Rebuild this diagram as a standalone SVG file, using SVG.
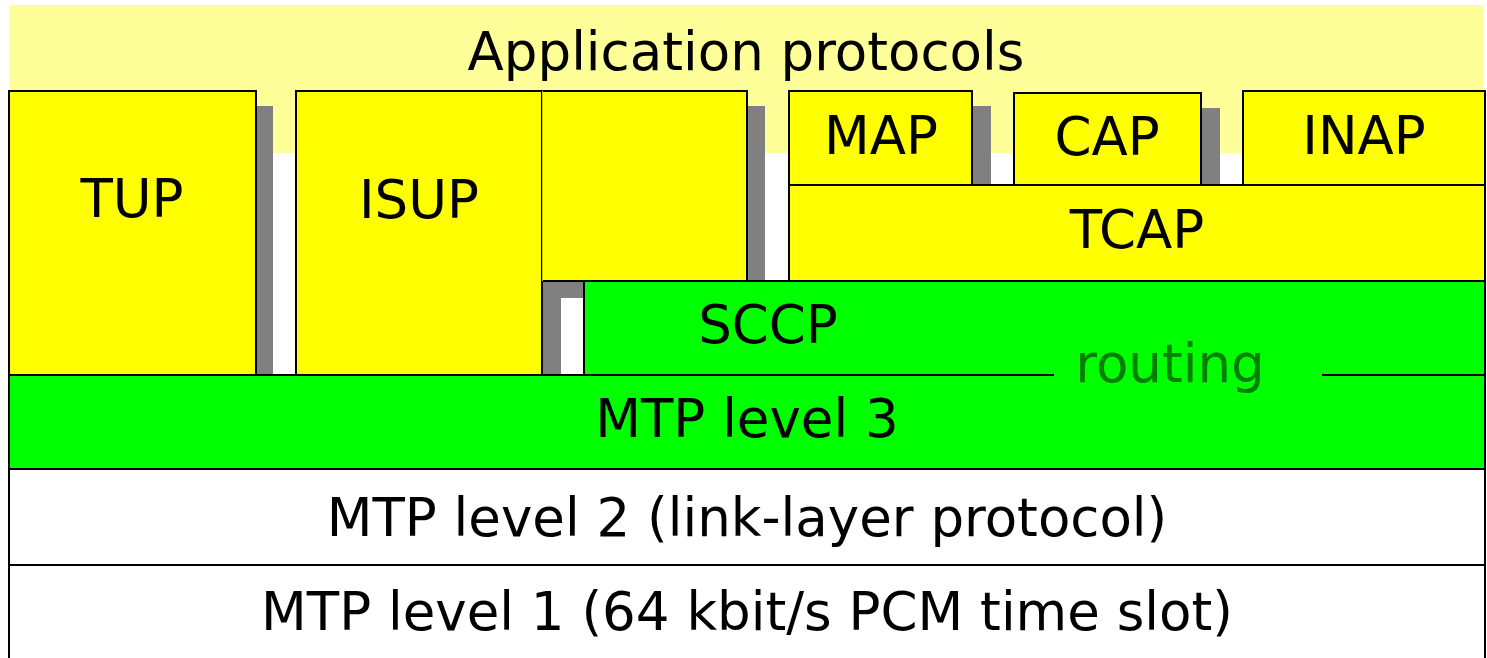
<svg xmlns="http://www.w3.org/2000/svg" width="1487" height="658" viewBox="0 0 1487 658">
  <style>
    .lbl { font-family: "DejaVu Sans", Verdana, sans-serif; font-size: 53px; fill: #000; text-anchor: middle; }
    .box { stroke: #000; stroke-width: 2; }
    .app { fill: #ffff00; }
    .net { fill: #00ff00; }
    .plain { fill: #ffffff; }
    .shadow { fill: #808080; }
    .edge { fill: none; stroke: #000; stroke-width: 2; }
  </style>
  <rect width="1487" height="658" fill="#ffffff"/>

  <!-- application band -->
  <g id="application-band">
    <rect x="9" y="5" width="1474" height="148" fill="#ffff99"/>
    <text class="lbl" x="746" y="70">Application protocols</text>
  </g>

  <!-- drop shadows beside the user parts -->
  <g id="shadows">
    <rect class="shadow" x="256" y="106" width="17" height="269"/>
    <rect class="shadow" x="748" y="106" width="17" height="175"/>
    <rect class="shadow" x="973" y="106" width="18" height="79"/>
    <rect class="shadow" x="1202" y="108" width="18" height="77"/>
    <rect class="shadow" x="542" y="281" width="42" height="94"/>
    <rect fill="#ffffff" x="561" y="298" width="22" height="77"/>
  </g>

  <g id="tup">
    <rect class="box app" x="9" y="91" width="247" height="284"/>
    <text class="lbl" x="132" y="217">TUP</text>
  </g>

  <g id="isup">
    <rect class="box app" x="296" y="91" width="246" height="284"/>
    <text class="lbl" x="419" y="218">ISUP</text>
  </g>

  <g id="sccp-user">
    <rect class="app" x="542" y="91" width="205" height="190"/>
    <path class="edge" d="M542,91 H747 V281 H542"/>
    <line x1="542.5" y1="91" x2="542.5" y2="281" stroke="#c8c800" stroke-width="1"/>
    <path class="edge" d="M542,281 V375"/>
  </g>

  <g id="map">
    <rect class="box app" x="789" y="91" width="183" height="94"/>
    <text class="lbl" x="881" y="154">MAP</text>
  </g>

  <g id="cap">
    <rect class="box app" x="1014" y="93" width="187" height="92"/>
    <text class="lbl" x="1107" y="155">CAP</text>
  </g>

  <g id="inap">
    <rect class="box app" x="1243" y="91" width="242" height="94"/>
    <text class="lbl" x="1364" y="154">INAP</text>
  </g>

  <g id="tcap">
    <rect class="box app" x="789" y="185" width="696" height="96"/>
    <text class="lbl" x="1137" y="248">TCAP</text>
  </g>

  <g id="sccp">
    <rect class="net" x="584" y="281" width="901" height="94"/>
    <path class="edge" d="M584,375 V281 H1485 V375"/>
    <text class="lbl" x="768" y="343">SCCP</text>
  </g>

  <g id="mtp3">
    <rect class="net" x="9" y="375" width="1476" height="94"/>
    <path class="edge" d="M9,375 V469 H1485 V375"/>
    <text class="lbl" x="747" y="437">MTP level 3</text>
  </g>

  <g id="mtp2">
    <rect class="box plain" x="9" y="469" width="1476" height="96"/>
    <text class="lbl" x="747" y="536">MTP level 2 (link-layer protocol)</text>
  </g>

  <g id="mtp1">
    <rect class="box plain" x="9" y="565" width="1476" height="100"/>
    <text class="lbl" x="747" y="630">MTP level 1 (64 kbit/s PCM time slot)</text>
  </g>

  <!-- boundary between the upper layers and MTP level 3, interrupted by the routing label -->
  <g id="connectors">
    <path class="edge" d="M9,375 H1054 M1322,375 H1485"/>
  </g>

  <g id="routing">
    <text class="lbl" x="1170" y="382" style="fill:#008000">routing</text>
  </g>
</svg>
